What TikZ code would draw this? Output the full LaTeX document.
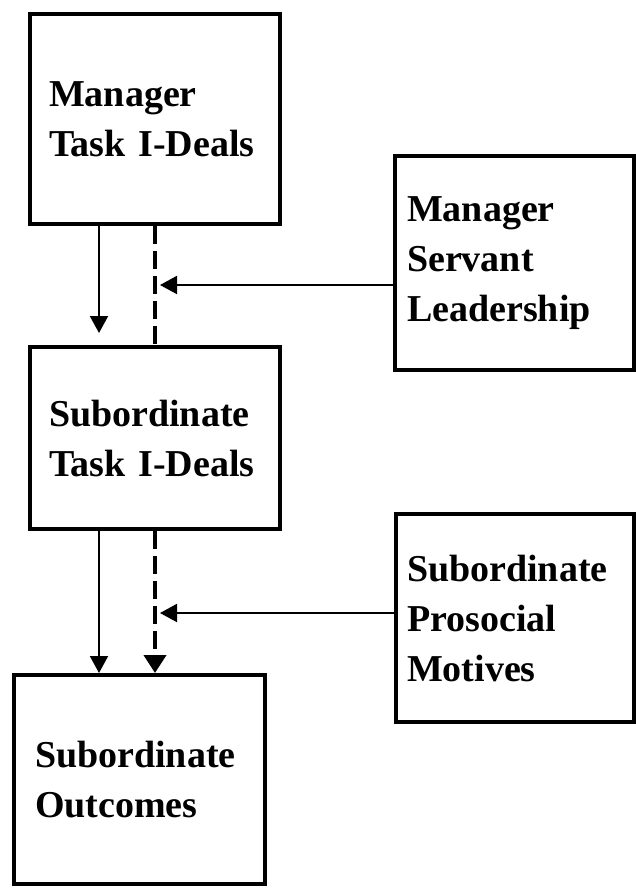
\documentclass[tikz,border=0pt]{standalone}
\usepackage{fontspec}
\setmainfont{Liberation Serif}
\usetikzlibrary{arrows.meta}
\begin{document}
\begin{tikzpicture}[x=1pt,y=-1pt,
  box/.style={draw=black, line width=4pt, anchor=north west, align=left,
    inner ysep=0pt, font=\fontsize{38}{50}\selectfont\bfseries},
  arr/.style={line width=2pt, -{Triangle[length=17pt,width=18pt]}},
  dashline/.style={line width=4pt, dash pattern=on 18pt off 7pt},
]
\useasboundingbox[fill=white] (0,0) rectangle (635,889);

\node[box, minimum width=250pt, minimum height=210pt, inner xsep=19pt, text width=212pt]
  (mtid) at (28,12) {Manager\\Task I-Deals};
\node[box, minimum width=239pt, minimum height=214pt, inner xsep=12pt, text width=215pt]
  (msl) at (393,154) {Manager\\Servant\\Leadership};
\node[box, minimum width=250pt, minimum height=182pt, inner xsep=19pt, text width=212pt]
  (stid) at (28,345) {Subordinate\\Task I-Deals};
\node[box, minimum width=238pt, minimum height=208pt, inner xsep=11pt, text width=216pt]
  (spm) at (394,512) {Subordinate\\Prosocial\\Motives};
\node[box, minimum width=251pt, minimum height=209pt, inner xsep=21pt, text width=209pt]
  (so) at (12,673) {Subordinate\\Outcomes};

\coordinate (xa) at (99,0);
\coordinate (m1) at (160,285);
\coordinate (m2) at (160,613);

% manager task i-deals -> subordinate task i-deals
\draw[arr, shorten >=12pt] (mtid.south -| xa) -- (stid.north -| xa);
\draw[dashline] (mtid.south) -- (stid.north);
\draw[arr] (m1 -| msl.west) -- (m1);

% subordinate task i-deals -> outcomes
\draw[arr] (stid.south -| xa) -- (so.north -| xa);
\draw[dashline, -{Triangle[length=18pt,width=22pt]}] (stid.south) -- (stid.south |- so.north);
\draw[arr] (m2 -| spm.west) -- (m2);
\end{tikzpicture}
\end{document}
